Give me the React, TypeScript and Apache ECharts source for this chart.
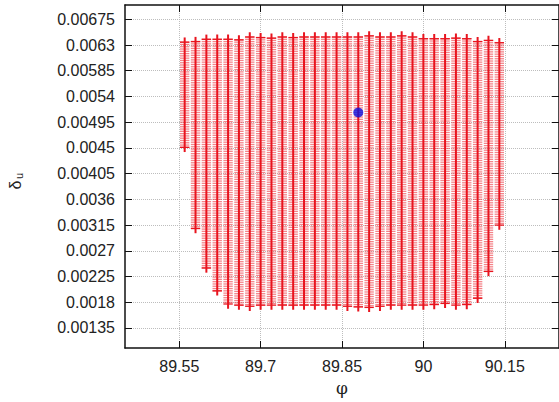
import React, { useEffect, useRef } from "react";
import * as echarts from "echarts";

// Scan columns (phi) with lowest and highest delta_u reached in each column
const PHI = [
  89.56, 89.58, 89.6, 89.62, 89.64, 89.66, 89.68, 89.7, 89.72, 89.74,
  89.76, 89.78, 89.8, 89.82, 89.84, 89.86, 89.88, 89.9, 89.92, 89.94,
  89.96, 89.98, 90.0, 90.02, 90.04, 90.06, 90.08, 90.1, 90.12, 90.14,
];
const DELTA_TOP = [
  0.00635, 0.00636, 0.0064, 0.0064, 0.0064, 0.00639, 0.00644, 0.00643, 0.00642, 0.00644,
  0.00643, 0.00644, 0.00644, 0.00644, 0.00644, 0.00644, 0.00644, 0.00646, 0.00644, 0.00644,
  0.00646, 0.00644, 0.00641, 0.00641, 0.00641, 0.00642, 0.00641, 0.00636, 0.00638, 0.00634,
];
const DELTA_BOTTOM = [
  0.00451, 0.00309, 0.0024, 0.002, 0.00177, 0.00175, 0.00173, 0.00175, 0.00175, 0.00175,
  0.00175, 0.00175, 0.00175, 0.00175, 0.00175, 0.00173, 0.00172, 0.00171, 0.00173, 0.00175,
  0.00175, 0.00175, 0.00175, 0.00176, 0.00178, 0.00175, 0.00176, 0.00187, 0.00234, 0.00315,
];
const SCAN_STEP = 0.00004; // spacing of scan points along delta_u
const BEST_POINT = [[89.88, 0.00512]];

const X_TICKS = [89.55, 89.7, 89.85, 90, 90.15];
const Y_TICKS = [
  0.00135, 0.0018, 0.00225, 0.0027, 0.00315, 0.0036, 0.00405, 0.0045, 0.00495,
  0.0054, 0.00585, 0.0063, 0.00675,
];

const FONT = "'Liberation Sans', Arial, Helvetica, sans-serif";
const fmt = (v: number) => String(parseFloat(v.toFixed(6)));

export default function App() {
  const ref = useRef<HTMLDivElement>(null);
  useEffect(() => {
    if (!ref.current) return;
    const chart = echarts.init(ref.current, null, { renderer: "svg" });
    const columns = PHI.map((p, i) => [p, DELTA_BOTTOM[i], DELTA_TOP[i]]);
    const RED = "#e8141e";

    const tickCommon = { inside: true, length: 7, lineStyle: { color: "#111", width: 1 } };
    const lineCommon = { show: true, onZero: false, lineStyle: { color: "#111", width: 1.5 } };
    const split = { show: true, lineStyle: { color: "#bdbdbd", type: "dotted", width: 1 } };

    chart.setOption({
      animation: false,
      backgroundColor: "#ffffff",
      grid: { left: 125, right: -3.6, top: 5, bottom: 54, containLabel: false },
      xAxis: [
        {
          type: "value",
          position: "bottom",
          min: 89.45,
          max: 90.25,
          axisLine: lineCommon,
          axisTick: { ...tickCommon, customValues: X_TICKS },
          axisLabel: {
            customValues: X_TICKS,
            formatter: (v: number) => fmt(v),
            color: "#222",
            fontSize: 16,
            fontFamily: FONT,
            margin: 10,
          },
          splitLine: split,
          name: "φ",
          nameLocation: "middle",
          nameGap: 31,
          nameTextStyle: { color: "#222", fontSize: 17, fontFamily: "'DejaVu Serif', serif" },
        },
        {
          type: "value",
          position: "top",
          min: 89.45,
          max: 90.25,
          axisLine: lineCommon,
          axisTick: { ...tickCommon, customValues: X_TICKS },
          axisLabel: { show: false, customValues: X_TICKS },
          splitLine: { show: false },
        },
      ],
      yAxis: [
        {
          type: "value",
          position: "left",
          min: 0.001,
          max: 0.007,
          axisLine: lineCommon,
          axisTick: { ...tickCommon, customValues: Y_TICKS },
          axisLabel: {
            customValues: Y_TICKS,
            formatter: (v: number) => fmt(v),
            color: "#222",
            fontSize: 16,
            fontFamily: FONT,
            margin: 10,
          },
          splitLine: split,
        },
        {
          type: "value",
          position: "right",
          min: 0.001,
          max: 0.007,
          axisLine: lineCommon,
          axisTick: { ...tickCommon, customValues: Y_TICKS },
          axisLabel: { show: false, customValues: Y_TICKS },
          splitLine: { show: false },
        },
      ],
      graphic: [
        {
          type: "group",
          x: 15,
          y: 181,
          rotation: Math.PI / 2,
          children: [
            {
              type: "text",
              x: -4,
              y: 0,
              style: {
                text: "δ",
                fill: "#222",
                fontSize: 16,
                fontFamily: FONT,
                align: "center",
                verticalAlign: "middle",
              },
            },
            {
              type: "text",
              x: 5,
              y: 4,
              style: {
                text: "u",
                fill: "#222",
                fontSize: 11,
                fontFamily: FONT,
                align: "center",
                verticalAlign: "middle",
              },
            },
          ],
        },
      ],
      series: [
        {
          type: "custom",
          xAxisIndex: 0,
          yAxisIndex: 0,
          data: columns,
          encode: { x: 0, y: [1, 2] },
          renderItem: (_params: any, api: any) => {
            const x = api.value(0) as number;
            const lo = api.value(1) as number;
            const hi = api.value(2) as number;
            const top = api.coord([x, hi]);
            const bot = api.coord([x, lo]);
            const cx = top[0];
            const half = 4.7;
            const children: any[] = [];
            for (let v = hi; v >= lo - 1e-9; v -= SCAN_STEP) {
              const y = api.coord([x, v])[1];
              children.push({
                type: "line",
                silent: true,
                shape: { x1: cx - half, y1: y, x2: cx + half, y2: y },
                style: { stroke: "rgba(238,56,66,0.62)", lineWidth: 1.3 },
              });
            }
            children.push({
              type: "line",
              silent: true,
              shape: { x1: cx, y1: top[1] - half, x2: cx, y2: bot[1] + half },
              style: { stroke: RED, lineWidth: 2 },
            });
            [top[1], bot[1]].forEach((y) =>
              children.push({
                type: "line",
                silent: true,
                shape: { x1: cx - half, y1: y, x2: cx + half, y2: y },
                style: { stroke: RED, lineWidth: 1.3 },
              })
            );
            return { type: "group", children };
          },
          z: 2,
        },
        {
          type: "scatter",
          xAxisIndex: 0,
          yAxisIndex: 0,
          data: BEST_POINT,
          symbol: "circle",
          symbolSize: 10,
          itemStyle: { color: "#0a10e0" },
          z: 5,
        },
      ],
    });
    return () => chart.dispose();
  }, []);
  return (
    <div
      ref={ref}
      style={{ position: "absolute", left: 0, top: 0, width: 559, height: 402, background: "#fff" }}
    />
  );
}
